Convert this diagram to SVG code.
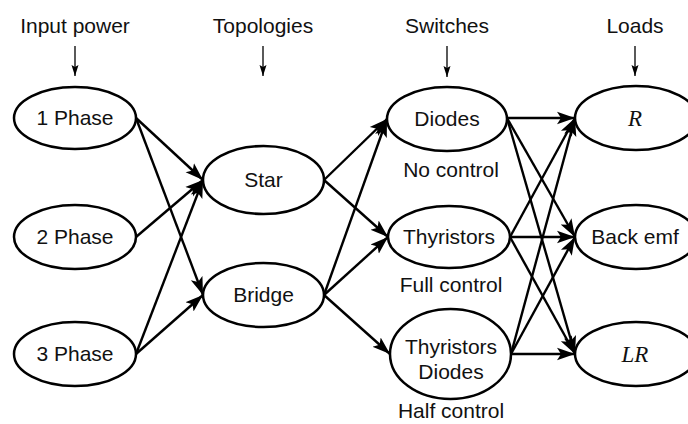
<svg xmlns="http://www.w3.org/2000/svg" width="688" height="424" viewBox="0 0 688 424">
  <style>
    .node ellipse { fill: #fff; stroke: #000; stroke-width: 2.5; }
    .label { font-family: "Liberation Sans", Arial, sans-serif; font-size: 21px; fill: #111; text-anchor: middle; }
    .math { font-family: "Liberation Serif", "Times New Roman", serif; font-style: italic; font-size: 23px; fill: #111; text-anchor: middle; }
    .edge { stroke: #000; stroke-width: 2.4; fill: none; marker-end: url(#head); }
    .tick { stroke: #000; stroke-width: 1.3; fill: none; marker-end: url(#smallhead); }
  </style>
  <defs>
    <marker id="head" markerUnits="userSpaceOnUse" markerWidth="20" markerHeight="14" refX="18" refY="7" orient="auto">
      <path d="M0,0.8 L18,7 L0,13.2 L4,7 Z" fill="#000"/>
    </marker>
    <marker id="smallhead" markerUnits="userSpaceOnUse" markerWidth="12" markerHeight="8" refX="11" refY="4" orient="auto">
      <path d="M0,0.5 L11,4 L0,7.5 L2,4 Z" fill="#000"/>
    </marker>
  </defs>

  <rect width="688" height="424" fill="#fff"/>

  <!-- column headings -->
  <g id="headings">
    <text class="label" x="75" y="33">Input power</text>
    <text class="label" x="263" y="33">Topologies</text>
    <text class="label" x="447" y="33">Switches</text>
    <text class="label" x="635" y="33">Loads</text>
    <line class="tick" x1="75" y1="46" x2="75" y2="76"/>
    <line class="tick" x1="263" y1="46" x2="263" y2="76"/>
    <line class="tick" x1="447" y1="46" x2="447" y2="77"/>
    <line class="tick" x1="635" y1="46" x2="635" y2="76"/>
  </g>

  <!-- connectors -->
  <g id="connectors">
    <line class="edge" x1="136" y1="118" x2="203" y2="180"/>
    <line class="edge" x1="136" y1="118" x2="203" y2="295"/>
    <line class="edge" x1="136" y1="237" x2="203" y2="180"/>
    <line class="edge" x1="136" y1="354" x2="203" y2="180"/>
    <line class="edge" x1="136" y1="354" x2="203" y2="295"/>

    <line class="edge" x1="324" y1="180" x2="387" y2="119"/>
    <line class="edge" x1="324" y1="180" x2="388" y2="237"/>
    <line class="edge" x1="324" y1="295" x2="387" y2="119"/>
    <line class="edge" x1="324" y1="295" x2="388" y2="237"/>
    <line class="edge" x1="324" y1="295" x2="390" y2="354"/>

    <line class="edge" x1="507" y1="118" x2="575" y2="118"/>
    <line class="edge" x1="507" y1="118" x2="575" y2="237"/>
    <line class="edge" x1="507" y1="118" x2="575" y2="354"/>
    <line class="edge" x1="510" y1="237" x2="575" y2="118"/>
    <line class="edge" x1="510" y1="237" x2="575" y2="237"/>
    <line class="edge" x1="510" y1="237" x2="575" y2="354"/>
    <line class="edge" x1="511" y1="354" x2="575" y2="118"/>
    <line class="edge" x1="511" y1="354" x2="575" y2="237"/>
    <line class="edge" x1="511" y1="354" x2="575" y2="354"/>
  </g>

  <!-- input power -->
  <g id="phase1" class="node">
    <ellipse cx="75" cy="118" rx="61" ry="31"/>
    <text class="label" x="75" y="125">1 Phase</text>
  </g>
  <g id="phase2" class="node">
    <ellipse cx="75" cy="237" rx="61" ry="32"/>
    <text class="label" x="75" y="244">2 Phase</text>
  </g>
  <g id="phase3" class="node">
    <ellipse cx="75" cy="354" rx="61" ry="32"/>
    <text class="label" x="75" y="361">3 Phase</text>
  </g>

  <!-- topologies -->
  <g id="star" class="node">
    <ellipse cx="263.5" cy="180" rx="60.5" ry="34"/>
    <text class="label" x="263.5" y="187">Star</text>
  </g>
  <g id="bridge" class="node">
    <ellipse cx="263.5" cy="295" rx="60.5" ry="32"/>
    <text class="label" x="263.5" y="302">Bridge</text>
  </g>

  <!-- switches -->
  <g id="diodes" class="node">
    <ellipse cx="447" cy="119" rx="60" ry="32"/>
    <text class="label" x="447" y="126">Diodes</text>
    <text class="label" x="451" y="177">No control</text>
  </g>
  <g id="thyristors" class="node">
    <ellipse cx="449" cy="237" rx="61" ry="31"/>
    <text class="label" x="449" y="244">Thyristors</text>
    <text class="label" x="451" y="292">Full control</text>
  </g>
  <g id="thyristors-diodes" class="node">
    <ellipse cx="450.5" cy="354" rx="60.5" ry="45"/>
    <text class="label" x="451" y="354">Thyristors</text>
    <text class="label" x="451" y="379">Diodes</text>
    <text class="label" x="451" y="418">Half control</text>
  </g>

  <!-- loads -->
  <g id="load-r" class="node">
    <ellipse cx="636" cy="118" rx="61" ry="32"/>
    <text class="math" x="635" y="126">R</text>
  </g>
  <g id="load-emf" class="node">
    <ellipse cx="636" cy="237" rx="61" ry="32"/>
    <text class="label" x="635" y="244">Back emf</text>
  </g>
  <g id="load-lr" class="node">
    <ellipse cx="636" cy="354" rx="61" ry="32"/>
    <text class="math" x="635" y="362">LR</text>
  </g>
</svg>
